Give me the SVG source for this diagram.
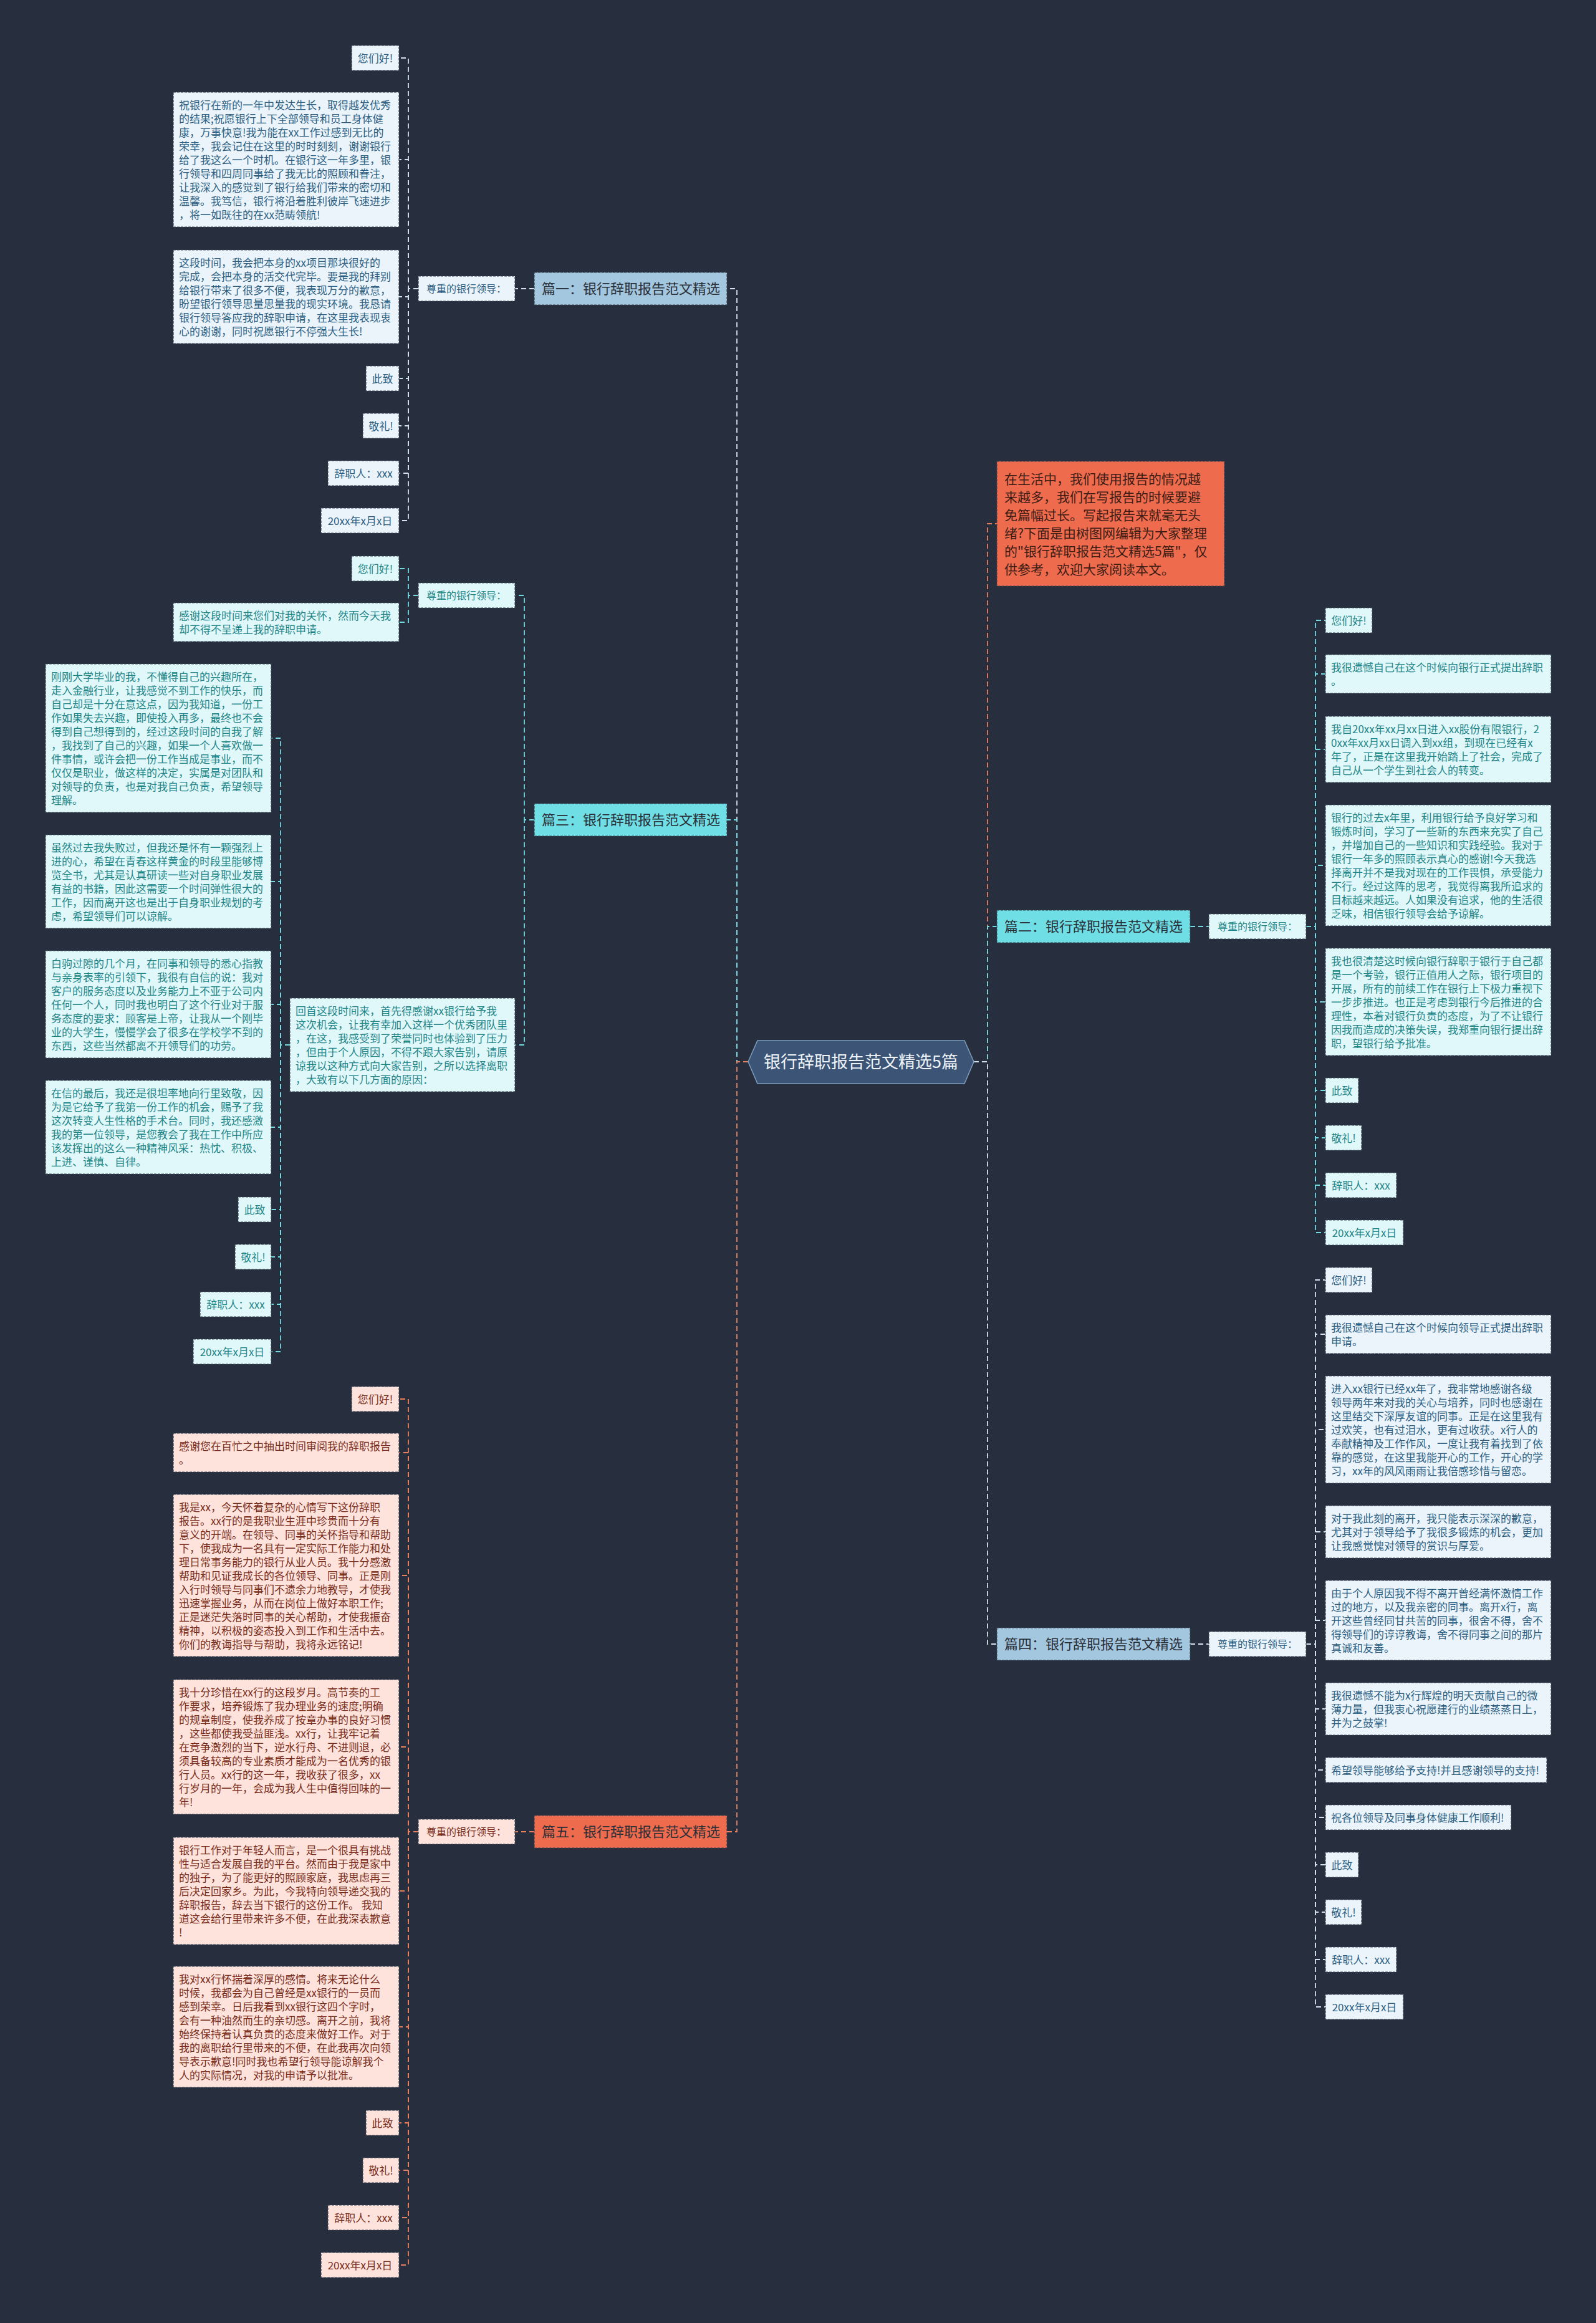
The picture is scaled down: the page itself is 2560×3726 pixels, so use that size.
<svg xmlns="http://www.w3.org/2000/svg" width="2560" height="3726" viewBox="0 0 2560 3726">
<style>
.t{font-family:"Noto Sans CJK SC","Noto Sans",sans-serif;font-size:17px}
.z{font-size:16px}
.lab{font-size:22px}
.bx{stroke:#3a4452;stroke-width:1.2;stroke-dasharray:4 2}
.l1{fill:#ebf4fa}.l3{fill:#e0f8f9}.l5{fill:#fde3dc}
.c1{fill:#2d5f83}.c3{fill:#1f8588}.c5{fill:#7a2c1a}
.g1{fill:#a3c7df}.g3{fill:#6fdfe5}.g5{fill:#ee6b4d}
.dk{fill:#2a2f38}
.cn{fill:none;stroke-width:1.8;stroke-dasharray:8 5}
.k1{stroke:#d2e1ec}.k3{stroke:#74d9df}.k5{stroke:#e8805f}
</style>
<rect x="0" y="0" width="2560" height="3726" fill="#272f3e"/>

<g id="connectors">
<!-- root -->
<path class="cn k1" d="M1200,1703 H1182 V463 H1166"/>
<path class="cn k3" d="M1200,1703 H1182 V1315 H1166"/>
<path class="cn k5" d="M1200,1703 H1182 V2938 H1166"/>
<path class="cn k5" d="M1562,1703 H1584 V840 H1599"/>
<path class="cn k3" d="M1562,1703 H1584 V1486 H1599"/>
<path class="cn k1" d="M1562,1703 H1584 V2637 H1599"/>
<!-- p1 -->
<path class="cn k1" d="M857,463 H826"/>
<path class="cn k1" d="M671,463 H655 V93 H640"/>
<path class="cn k1" d="M671,463 H655 V256 H640"/>
<path class="cn k1" d="M671,463 H655 V476 H640"/>
<path class="cn k1" d="M671,463 H655 V607 H640"/>
<path class="cn k1" d="M671,463 H655 V683 H640"/>
<path class="cn k1" d="M671,463 H655 V759 H640"/>
<path class="cn k1" d="M671,463 H655 V835 H640"/>
<!-- p3 -->
<path class="cn k3" d="M857,1315 H841 V955 H826"/>
<path class="cn k3" d="M857,1315 H841 V1676 H826"/>
<path class="cn k3" d="M671,955 H655 V912 H640"/>
<path class="cn k3" d="M671,955 H655 V998 H640"/>
<path class="cn k3" d="M465,1676 H450 V1184 H435"/>
<path class="cn k3" d="M465,1676 H450 V1414 H435"/>
<path class="cn k3" d="M465,1676 H450 V1611 H435"/>
<path class="cn k3" d="M465,1676 H450 V1808 H435"/>
<path class="cn k3" d="M465,1676 H450 V1940 H435"/>
<path class="cn k3" d="M465,1676 H450 V2016 H435"/>
<path class="cn k3" d="M465,1676 H450 V2092 H435"/>
<path class="cn k3" d="M465,1676 H450 V2168 H435"/>
<!-- p5 -->
<path class="cn k5" d="M857,2938 H826"/>
<path class="cn k5" d="M671,2938 H655 V2244 H640"/>
<path class="cn k5" d="M671,2938 H655 V2330 H640"/>
<path class="cn k5" d="M671,2938 H655 V2527 H640"/>
<path class="cn k5" d="M671,2938 H655 V2802 H640"/>
<path class="cn k5" d="M671,2938 H655 V3033 H640"/>
<path class="cn k5" d="M671,2938 H655 V3251 H640"/>
<path class="cn k5" d="M671,2938 H655 V3405 H640"/>
<path class="cn k5" d="M671,2938 H655 V3481 H640"/>
<path class="cn k5" d="M671,2938 H655 V3557 H640"/>
<path class="cn k5" d="M671,2938 H655 V3633 H640"/>
<!-- p2 -->
<path class="cn k3" d="M1909,1486 H1939"/>
<path class="cn k3" d="M2095,1486 H2110 V995 H2126"/>
<path class="cn k3" d="M2095,1486 H2110 V1081 H2126"/>
<path class="cn k3" d="M2095,1486 H2110 V1202 H2126"/>
<path class="cn k3" d="M2095,1486 H2110 V1388 H2126"/>
<path class="cn k3" d="M2095,1486 H2110 V1607 H2126"/>
<path class="cn k3" d="M2095,1486 H2110 V1749 H2126"/>
<path class="cn k3" d="M2095,1486 H2110 V1825 H2126"/>
<path class="cn k3" d="M2095,1486 H2110 V1901 H2126"/>
<path class="cn k3" d="M2095,1486 H2110 V1977 H2126"/>
<!-- p4 -->
<path class="cn k1" d="M1909,2637 H1939"/>
<path class="cn k1" d="M2095,2637 H2110 V2053 H2126"/>
<path class="cn k1" d="M2095,2637 H2110 V2140 H2126"/>
<path class="cn k1" d="M2095,2637 H2110 V2293 H2126"/>
<path class="cn k1" d="M2095,2637 H2110 V2457 H2126"/>
<path class="cn k1" d="M2095,2637 H2110 V2599 H2126"/>
<path class="cn k1" d="M2095,2637 H2110 V2741 H2126"/>
<path class="cn k1" d="M2095,2637 H2110 V2839 H2126"/>
<path class="cn k1" d="M2095,2637 H2110 V2915 H2126"/>
<path class="cn k1" d="M2095,2637 H2110 V2991 H2126"/>
<path class="cn k1" d="M2095,2637 H2110 V3067 H2126"/>
<path class="cn k1" d="M2095,2637 H2110 V3143 H2126"/>
<path class="cn k1" d="M2095,2637 H2110 V3219 H2126"/>
</g>

<g id="root">
<path d="M1200,1703 L1215,1669 H1547 L1562,1703 L1547,1738 H1215 Z" fill="#3c5576" stroke="#7f9fbf" stroke-width="1.5"/>
<text class="t" x="1381" y="1713" text-anchor="middle" style="font-size:27px" fill="#eef3f8">银行辞职报告范文精选5篇</text>
</g>

<g id="intro">
<rect x="1599" y="740" width="365" height="200" class="g5 bx"/>
<text class="t" x="1611" y="776" style="font-size:21px" fill="#3d1d15"><tspan x="1611">在生活中，我们使用报告的情况越</tspan><tspan x="1611" dy="29">来越多，我们在写报告的时候要避</tspan><tspan x="1611" dy="29">免篇幅过长。写起报告来就毫无头</tspan><tspan x="1611" dy="29">绪?下面是由树图网编辑为大家整理</tspan><tspan x="1611" dy="29">的"银行辞职报告范文精选5篇"，仅</tspan><tspan x="1611" dy="29">供参考，欢迎大家阅读本文。</tspan></text>
</g>

<!-- ===== 篇一 ===== -->
<g id="p1">
<rect x="857" y="437" width="309" height="52" class="g1 bx"/>
<text class="t lab dk" x="869" y="471">篇一：银行辞职报告范文精选</text>
</g>
<g id="p1-zz">
<rect x="671" y="443" width="155" height="40" class="l1 bx"/>
<text class="t z c1" x="748" y="469" text-anchor="middle">尊重的银行领导：</text>
</g>
<g id="p1-a"><rect x="564" y="73" width="76" height="40" class="l1 bx"/><text class="t c1" x="602" y="100" text-anchor="middle">您们好!</text></g>
<g id="p1-b"><rect x="278" y="148" width="362" height="216" class="l1 bx"/>
<text class="t c1" x="287" y="175"><tspan x="287">祝银行在新的一年中发达生长，取得越发优秀</tspan><tspan x="287" dy="22">的结果;祝愿银行上下全部领导和员工身体健</tspan><tspan x="287" dy="22">康，万事快意!我为能在xx工作过感到无比的</tspan><tspan x="287" dy="22">荣幸，我会记住在这里的时时刻刻，谢谢银行</tspan><tspan x="287" dy="22">给了我这么一个时机。在银行这一年多里，银</tspan><tspan x="287" dy="22">行领导和四周同事给了我无比的照顾和眷注，</tspan><tspan x="287" dy="22">让我深入的感觉到了银行给我们带来的密切和</tspan><tspan x="287" dy="22">温馨。我笃信，银行将沿着胜利彼岸飞速进步</tspan><tspan x="287" dy="22">，将一如既往的在xx范畴领航!</tspan></text></g>
<g id="p1-c"><rect x="278" y="401" width="362" height="150" class="l1 bx"/>
<text class="t c1" x="287" y="428"><tspan x="287">这段时间，我会把本身的xx项目那块很好的</tspan><tspan x="287" dy="22">完成，会把本身的活交代完毕。要是我的拜别</tspan><tspan x="287" dy="22">给银行带来了很多不便，我表现万分的歉意，</tspan><tspan x="287" dy="22">盼望银行领导思量思量我的现实环境。我恳请</tspan><tspan x="287" dy="22">银行领导答应我的辞职申请，在这里我表现衷</tspan><tspan x="287" dy="22">心的谢谢，同时祝愿银行不停强大生长!</tspan></text></g>
<g id="p1-d"><rect x="587" y="587" width="53" height="40" class="l1 bx"/><text class="t c1" x="613.5" y="614" text-anchor="middle">此致</text></g>
<g id="p1-e"><rect x="582" y="663" width="58" height="40" class="l1 bx"/><text class="t c1" x="611" y="690" text-anchor="middle">敬礼!</text></g>
<g id="p1-f"><rect x="526" y="739" width="114" height="40" class="l1 bx"/><text class="t c1" x="583" y="766" text-anchor="middle">辞职人：xxx</text></g>
<g id="p1-g"><rect x="515" y="815" width="125" height="40" class="l1 bx"/><text class="t c1" x="577.5" y="842" text-anchor="middle">20xx年x月x日</text></g>

<!-- ===== 篇三 ===== -->
<g id="p3">
<rect x="857" y="1289" width="309" height="52" class="g3 bx"/>
<text class="t lab dk" x="869" y="1323">篇三：银行辞职报告范文精选</text>
</g>
<g id="p3-zz"><rect x="671" y="935" width="155" height="40" class="l3 bx"/><text class="t z c3" x="748" y="961" text-anchor="middle">尊重的银行领导：</text></g>
<g id="p3-a"><rect x="564" y="892" width="76" height="40" class="l3 bx"/><text class="t c3" x="602" y="919" text-anchor="middle">您们好!</text></g>
<g id="p3-b"><rect x="278" y="967" width="362" height="62" class="l3 bx"/>
<text class="t c3" x="287" y="994"><tspan x="287">感谢这段时间来您们对我的关怀，然而今天我</tspan><tspan x="287" dy="22">却不得不呈递上我的辞职申请。</tspan></text></g>
<g id="p3-hs"><rect x="465" y="1601" width="361" height="150" class="l3 bx"/>
<text class="t c3" x="474" y="1628"><tspan x="474">回首这段时间来，首先得感谢xx银行给予我</tspan><tspan x="474" dy="22">这次机会，让我有幸加入这样一个优秀团队里</tspan><tspan x="474" dy="22">，在这，我感受到了荣誉同时也体验到了压力</tspan><tspan x="474" dy="22">，但由于个人原因，不得不跟大家告别，请原</tspan><tspan x="474" dy="22">谅我以这种方式向大家告别，之所以选择离职</tspan><tspan x="474" dy="22">，大致有以下几方面的原因：</tspan></text></g>
<g id="p3-c"><rect x="73" y="1065" width="362" height="238" class="l3 bx"/>
<text class="t c3" x="82" y="1092"><tspan x="82">刚刚大学毕业的我，不懂得自己的兴趣所在，</tspan><tspan x="82" dy="22">走入金融行业，让我感觉不到工作的快乐，而</tspan><tspan x="82" dy="22">自己却是十分在意这点，因为我知道，一份工</tspan><tspan x="82" dy="22">作如果失去兴趣，即使投入再多，最终也不会</tspan><tspan x="82" dy="22">得到自己想得到的，经过这段时间的自我了解</tspan><tspan x="82" dy="22">，我找到了自己的兴趣，如果一个人喜欢做一</tspan><tspan x="82" dy="22">件事情，或许会把一份工作当成是事业，而不</tspan><tspan x="82" dy="22">仅仅是职业，做这样的决定，实属是对团队和</tspan><tspan x="82" dy="22">对领导的负责，也是对我自己负责，希望领导</tspan><tspan x="82" dy="22">理解。</tspan></text></g>
<g id="p3-d"><rect x="73" y="1339" width="362" height="150" class="l3 bx"/>
<text class="t c3" x="82" y="1366"><tspan x="82">虽然过去我失败过，但我还是怀有一颗强烈上</tspan><tspan x="82" dy="22">进的心，希望在青春这样黄金的时段里能够博</tspan><tspan x="82" dy="22">览全书，尤其是认真研读一些对自身职业发展</tspan><tspan x="82" dy="22">有益的书籍，因此这需要一个时间弹性很大的</tspan><tspan x="82" dy="22">工作，因而离开这也是出于自身职业规划的考</tspan><tspan x="82" dy="22">虑，希望领导们可以谅解。</tspan></text></g>
<g id="p3-e"><rect x="73" y="1525" width="362" height="172" class="l3 bx"/>
<text class="t c3" x="82" y="1552"><tspan x="82">白驹过隙的几个月，在同事和领导的悉心指教</tspan><tspan x="82" dy="22">与亲身表率的引领下，我很有自信的说：我对</tspan><tspan x="82" dy="22">客户的服务态度以及业务能力上不亚于公司内</tspan><tspan x="82" dy="22">任何一个人，同时我也明白了这个行业对于服</tspan><tspan x="82" dy="22">务态度的要求：顾客是上帝，让我从一个刚毕</tspan><tspan x="82" dy="22">业的大学生，慢慢学会了很多在学校学不到的</tspan><tspan x="82" dy="22">东西，这些当然都离不开领导们的功劳。</tspan></text></g>
<g id="p3-f"><rect x="73" y="1733" width="362" height="150" class="l3 bx"/>
<text class="t c3" x="82" y="1760"><tspan x="82">在信的最后，我还是很坦率地向行里致敬，因</tspan><tspan x="82" dy="22">为是它给予了我第一份工作的机会，赐予了我</tspan><tspan x="82" dy="22">这次转变人生性格的手术台。同时，我还感激</tspan><tspan x="82" dy="22">我的第一位领导，是您教会了我在工作中所应</tspan><tspan x="82" dy="22">该发挥出的这么一种精神风采：热忱、积极、</tspan><tspan x="82" dy="22">上进、谨慎、自律。</tspan></text></g>
<g id="p3-g"><rect x="382" y="1920" width="53" height="40" class="l3 bx"/><text class="t c3" x="408.5" y="1947" text-anchor="middle">此致</text></g>
<g id="p3-h"><rect x="377" y="1996" width="58" height="40" class="l3 bx"/><text class="t c3" x="406" y="2023" text-anchor="middle">敬礼!</text></g>
<g id="p3-i"><rect x="321" y="2072" width="114" height="40" class="l3 bx"/><text class="t c3" x="378" y="2099" text-anchor="middle">辞职人：xxx</text></g>
<g id="p3-j"><rect x="310" y="2148" width="125" height="40" class="l3 bx"/><text class="t c3" x="372.5" y="2175" text-anchor="middle">20xx年x月x日</text></g>

<!-- ===== 篇五 ===== -->
<g id="p5">
<rect x="857" y="2912" width="309" height="52" class="g5 bx"/>
<text class="t lab dk" x="869" y="2946">篇五：银行辞职报告范文精选</text>
</g>
<g id="p5-zz"><rect x="671" y="2918" width="155" height="40" class="l5 bx"/><text class="t z c5" x="748" y="2944" text-anchor="middle">尊重的银行领导：</text></g>
<g id="p5-a"><rect x="564" y="2224" width="76" height="40" class="l5 bx"/><text class="t c5" x="602" y="2251" text-anchor="middle">您们好!</text></g>
<g id="p5-b"><rect x="278" y="2299" width="362" height="62" class="l5 bx"/>
<text class="t c5" x="287" y="2326"><tspan x="287">感谢您在百忙之中抽出时间审阅我的辞职报告</tspan><tspan x="287" dy="22">。</tspan></text></g>
<g id="p5-c"><rect x="278" y="2397" width="362" height="260" class="l5 bx"/>
<text class="t c5" x="287" y="2424"><tspan x="287">我是xx，今天怀着复杂的心情写下这份辞职</tspan><tspan x="287" dy="22">报告。xx行的是我职业生涯中珍贵而十分有</tspan><tspan x="287" dy="22">意义的开端。在领导、同事的关怀指导和帮助</tspan><tspan x="287" dy="22">下，使我成为一名具有一定实际工作能力和处</tspan><tspan x="287" dy="22">理日常事务能力的银行从业人员。我十分感激</tspan><tspan x="287" dy="22">帮助和见证我成长的各位领导、同事。正是刚</tspan><tspan x="287" dy="22">入行时领导与同事们不遗余力地教导，才使我</tspan><tspan x="287" dy="22">迅速掌握业务，从而在岗位上做好本职工作;</tspan><tspan x="287" dy="22">正是迷茫失落时同事的关心帮助，才使我振奋</tspan><tspan x="287" dy="22">精神，以积极的姿态投入到工作和生活中去。</tspan><tspan x="287" dy="22">你们的教诲指导与帮助，我将永远铭记!</tspan></text></g>
<g id="p5-d"><rect x="278" y="2694" width="362" height="216" class="l5 bx"/>
<text class="t c5" x="287" y="2721"><tspan x="287">我十分珍惜在xx行的这段岁月。高节奏的工</tspan><tspan x="287" dy="22">作要求，培养锻炼了我办理业务的速度;明确</tspan><tspan x="287" dy="22">的规章制度，使我养成了按章办事的良好习惯</tspan><tspan x="287" dy="22">，这些都使我受益匪浅。xx行，让我牢记着</tspan><tspan x="287" dy="22">在竞争激烈的当下，逆水行舟、不进则退，必</tspan><tspan x="287" dy="22">须具备较高的专业素质才能成为一名优秀的银</tspan><tspan x="287" dy="22">行人员。xx行的这一年，我收获了很多，xx</tspan><tspan x="287" dy="22">行岁月的一年，会成为我人生中值得回味的一</tspan><tspan x="287" dy="22">年!</tspan></text></g>
<g id="p5-e"><rect x="278" y="2947" width="362" height="172" class="l5 bx"/>
<text class="t c5" x="287" y="2974"><tspan x="287">银行工作对于年轻人而言，是一个很具有挑战</tspan><tspan x="287" dy="22">性与适合发展自我的平台。然而由于我是家中</tspan><tspan x="287" dy="22">的独子，为了能更好的照顾家庭，我思虑再三</tspan><tspan x="287" dy="22">后决定回家乡。为此，今我特向领导递交我的</tspan><tspan x="287" dy="22">辞职报告，辞去当下银行的这份工作。 我知</tspan><tspan x="287" dy="22">道这会给行里带来许多不便，在此我深表歉意</tspan><tspan x="287" dy="22">!</tspan></text></g>
<g id="p5-f"><rect x="278" y="3154" width="362" height="194" class="l5 bx"/>
<text class="t c5" x="287" y="3181"><tspan x="287">我对xx行怀揣着深厚的感情。将来无论什么</tspan><tspan x="287" dy="22">时候，我都会为自己曾经是xx银行的一员而</tspan><tspan x="287" dy="22">感到荣幸。日后我看到xx银行这四个字时，</tspan><tspan x="287" dy="22">会有一种油然而生的亲切感。离开之前，我将</tspan><tspan x="287" dy="22">始终保持着认真负责的态度来做好工作。对于</tspan><tspan x="287" dy="22">我的离职给行里带来的不便，在此我再次向领</tspan><tspan x="287" dy="22">导表示歉意!同时我也希望行领导能谅解我个</tspan><tspan x="287" dy="22">人的实际情况，对我的申请予以批准。</tspan></text></g>
<g id="p5-g"><rect x="587" y="3385" width="53" height="40" class="l5 bx"/><text class="t c5" x="613.5" y="3412" text-anchor="middle">此致</text></g>
<g id="p5-h"><rect x="582" y="3461" width="58" height="40" class="l5 bx"/><text class="t c5" x="611" y="3488" text-anchor="middle">敬礼!</text></g>
<g id="p5-i"><rect x="526" y="3537" width="114" height="40" class="l5 bx"/><text class="t c5" x="583" y="3564" text-anchor="middle">辞职人：xxx</text></g>
<g id="p5-j"><rect x="515" y="3613" width="125" height="40" class="l5 bx"/><text class="t c5" x="577.5" y="3640" text-anchor="middle">20xx年x月x日</text></g>

<!-- ===== 篇二 ===== -->
<g id="p2">
<rect x="1599" y="1460" width="310" height="52" class="g3 bx"/>
<text class="t lab dk" x="1611" y="1494">篇二：银行辞职报告范文精选</text>
</g>
<g id="p2-zz"><rect x="1939" y="1466" width="156" height="40" class="l3 bx"/><text class="t z c3" x="2017" y="1492" text-anchor="middle">尊重的银行领导：</text></g>
<g id="p2-a"><rect x="2126" y="975" width="75" height="40" class="l3 bx"/><text class="t c3" x="2163.5" y="1002" text-anchor="middle">您们好!</text></g>
<g id="p2-b"><rect x="2126" y="1050" width="362" height="62" class="l3 bx"/>
<text class="t c3" x="2135" y="1077"><tspan x="2135">我很遗憾自己在这个时候向银行正式提出辞职</tspan><tspan x="2135" dy="22">。</tspan></text></g>
<g id="p2-c"><rect x="2126" y="1149" width="362" height="106" class="l3 bx"/>
<text class="t c3" x="2135" y="1176"><tspan x="2135">我自20xx年xx月xx日进入xx股份有限银行，2</tspan><tspan x="2135" dy="22">0xx年xx月xx日调入到xx组，到现在已经有x</tspan><tspan x="2135" dy="22">年了，正是在这里我开始踏上了社会，完成了</tspan><tspan x="2135" dy="22">自己从一个学生到社会人的转变。</tspan></text></g>
<g id="p2-d"><rect x="2126" y="1291" width="362" height="194" class="l3 bx"/>
<text class="t c3" x="2135" y="1318"><tspan x="2135">银行的过去x年里，利用银行给予良好学习和</tspan><tspan x="2135" dy="22">锻炼时间，学习了一些新的东西来充实了自己</tspan><tspan x="2135" dy="22">，并增加自己的一些知识和实践经验。我对于</tspan><tspan x="2135" dy="22">银行一年多的照顾表示真心的感谢!今天我选</tspan><tspan x="2135" dy="22">择离开并不是我对现在的工作畏惧，承受能力</tspan><tspan x="2135" dy="22">不行。经过这阵的思考，我觉得离我所追求的</tspan><tspan x="2135" dy="22">目标越来越远。人如果没有追求，他的生活很</tspan><tspan x="2135" dy="22">乏味，相信银行领导会给予谅解。</tspan></text></g>
<g id="p2-e"><rect x="2126" y="1521" width="362" height="172" class="l3 bx"/>
<text class="t c3" x="2135" y="1548"><tspan x="2135">我也很清楚这时候向银行辞职于银行于自己都</tspan><tspan x="2135" dy="22">是一个考验，银行正值用人之际，银行项目的</tspan><tspan x="2135" dy="22">开展，所有的前续工作在银行上下极力重视下</tspan><tspan x="2135" dy="22">一步步推进。也正是考虑到银行今后推进的合</tspan><tspan x="2135" dy="22">理性，本着对银行负责的态度，为了不让银行</tspan><tspan x="2135" dy="22">因我而造成的决策失误，我郑重向银行提出辞</tspan><tspan x="2135" dy="22">职，望银行给予批准。</tspan></text></g>
<g id="p2-f"><rect x="2126" y="1729" width="53" height="40" class="l3 bx"/><text class="t c3" x="2152.5" y="1756" text-anchor="middle">此致</text></g>
<g id="p2-g"><rect x="2126" y="1805" width="58" height="40" class="l3 bx"/><text class="t c3" x="2155" y="1832" text-anchor="middle">敬礼!</text></g>
<g id="p2-h"><rect x="2126" y="1881" width="114" height="40" class="l3 bx"/><text class="t c3" x="2183" y="1908" text-anchor="middle">辞职人：xxx</text></g>
<g id="p2-i"><rect x="2126" y="1957" width="125" height="40" class="l3 bx"/><text class="t c3" x="2188.5" y="1984" text-anchor="middle">20xx年x月x日</text></g>

<!-- ===== 篇四 ===== -->
<g id="p4">
<rect x="1599" y="2611" width="310" height="52" class="g1 bx"/>
<text class="t lab dk" x="1611" y="2645">篇四：银行辞职报告范文精选</text>
</g>
<g id="p4-zz"><rect x="1939" y="2617" width="156" height="40" class="l1 bx"/><text class="t z c1" x="2017" y="2643" text-anchor="middle">尊重的银行领导：</text></g>
<g id="p4-a"><rect x="2126" y="2033" width="75" height="40" class="l1 bx"/><text class="t c1" x="2163.5" y="2060" text-anchor="middle">您们好!</text></g>
<g id="p4-b"><rect x="2126" y="2109" width="362" height="62" class="l1 bx"/>
<text class="t c1" x="2135" y="2136"><tspan x="2135">我很遗憾自己在这个时候向领导正式提出辞职</tspan><tspan x="2135" dy="22">申请。</tspan></text></g>
<g id="p4-c"><rect x="2126" y="2207" width="362" height="172" class="l1 bx"/>
<text class="t c1" x="2135" y="2234"><tspan x="2135">进入xx银行已经xx年了，我非常地感谢各级</tspan><tspan x="2135" dy="22">领导两年来对我的关心与培养，同时也感谢在</tspan><tspan x="2135" dy="22">这里结交下深厚友谊的同事。正是在这里我有</tspan><tspan x="2135" dy="22">过欢笑，也有过泪水，更有过收获。x行人的</tspan><tspan x="2135" dy="22">奉献精神及工作作风，一度让我有着找到了依</tspan><tspan x="2135" dy="22">靠的感觉，在这里我能开心的工作，开心的学</tspan><tspan x="2135" dy="22">习，xx年的风风雨雨让我倍感珍惜与留恋。</tspan></text></g>
<g id="p4-d"><rect x="2126" y="2415" width="362" height="84" class="l1 bx"/>
<text class="t c1" x="2135" y="2442"><tspan x="2135">对于我此刻的离开，我只能表示深深的歉意，</tspan><tspan x="2135" dy="22">尤其对于领导给予了我很多锻炼的机会，更加</tspan><tspan x="2135" dy="22">让我感觉愧对领导的赏识与厚爱。</tspan></text></g>
<g id="p4-e"><rect x="2126" y="2535" width="362" height="128" class="l1 bx"/>
<text class="t c1" x="2135" y="2562"><tspan x="2135">由于个人原因我不得不离开曾经满怀激情工作</tspan><tspan x="2135" dy="22">过的地方，以及我亲密的同事。离开x行，离</tspan><tspan x="2135" dy="22">开这些曾经同甘共苦的同事，很舍不得，舍不</tspan><tspan x="2135" dy="22">得领导们的谆谆教诲，舍不得同事之间的那片</tspan><tspan x="2135" dy="22">真诚和友善。</tspan></text></g>
<g id="p4-f"><rect x="2126" y="2699" width="362" height="84" class="l1 bx"/>
<text class="t c1" x="2135" y="2726"><tspan x="2135">我很遗憾不能为x行辉煌的明天贡献自己的微</tspan><tspan x="2135" dy="22">薄力量，但我衷心祝愿建行的业绩蒸蒸日上，</tspan><tspan x="2135" dy="22">并为之鼓掌!</tspan></text></g>
<g id="p4-g"><rect x="2126" y="2819" width="355" height="40" class="l1 bx"/><text class="t c1" x="2135" y="2846">希望领导能够给予支持!并且感谢领导的支持!</text></g>
<g id="p4-h"><rect x="2126" y="2895" width="298" height="40" class="l1 bx"/><text class="t c1" x="2135" y="2922">祝各位领导及同事身体健康工作顺利!</text></g>
<g id="p4-i"><rect x="2126" y="2971" width="53" height="40" class="l1 bx"/><text class="t c1" x="2152.5" y="2998" text-anchor="middle">此致</text></g>
<g id="p4-j"><rect x="2126" y="3047" width="58" height="40" class="l1 bx"/><text class="t c1" x="2155" y="3074" text-anchor="middle">敬礼!</text></g>
<g id="p4-k"><rect x="2126" y="3123" width="114" height="40" class="l1 bx"/><text class="t c1" x="2183" y="3150" text-anchor="middle">辞职人：xxx</text></g>
<g id="p4-l"><rect x="2126" y="3199" width="125" height="40" class="l1 bx"/><text class="t c1" x="2188.5" y="3226" text-anchor="middle">20xx年x月x日</text></g>
</svg>
